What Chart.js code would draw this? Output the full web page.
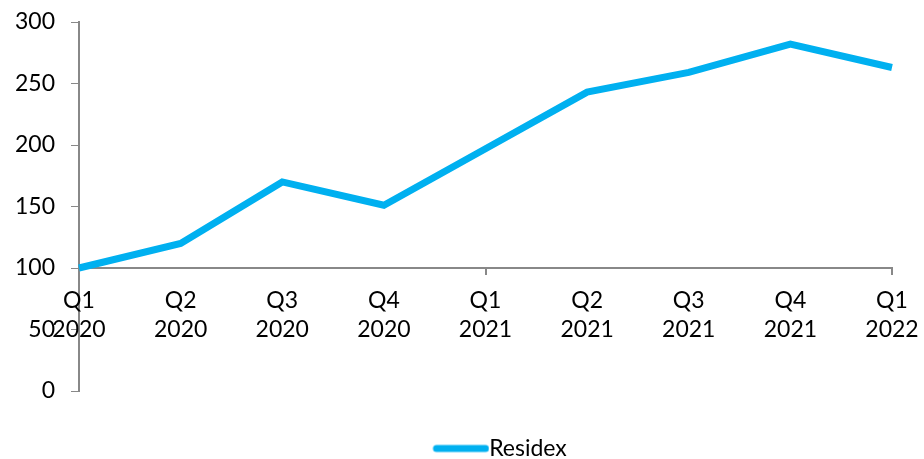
<!DOCTYPE html>
<html>
<head>
<meta charset="utf-8">
<script src="https://cdn.jsdelivr.net/npm/chart.js@4"></script>
<style>
html,body{margin:0;padding:0;background:#fff;}
#wrap{width:924px;height:459px;position:relative;}
</style>
</head>
<body>
<div id="wrap"><canvas id="c" width="924" height="459"></canvas></div>
<script>
const categories = [["Q1","2020"],["Q2","2020"],["Q3","2020"],["Q4","2020"],["Q1","2021"],["Q2","2021"],["Q3","2021"],["Q4","2021"],["Q1","2022"]];
const residex = [100, 120, 170, 151, 197, 243, 259, 282, 263];
const yTicks = [0, 50, 100, 150, 200, 250, 300];
const seriesName = "Residex";
const lineColor = "#00B0F0";
const axisColor = "#888888";

Chart.defaults.font.family = "Lato, 'Open Sans', sans-serif";
Chart.defaults.font.size = 23;
Chart.defaults.color = "#000000";

// legend swatch: a rounded line drawn in the right part of a small canvas
const swatch = document.createElement('canvas');
swatch.width = 97; swatch.height = 12;
(function () {
  const g = swatch.getContext('2d');
  g.strokeStyle = lineColor; g.lineWidth = 7; g.lineCap = 'round';
  g.beginPath(); g.moveTo(44, 6); g.lineTo(93, 6); g.stroke();
})();

function zeroPad(s) { s.paddingTop = 0; s.paddingBottom = 0; s.paddingLeft = 0; s.paddingRight = 0; }

new Chart(document.getElementById('c'), {
  type: 'line',
  data: {
    labels: categories,
    datasets: [{
      label: seriesName,
      data: residex,
      borderColor: lineColor,
      backgroundColor: lineColor,
      borderWidth: 7,
      pointRadius: 0,
      tension: 0,
      fill: false
    }]
  },
  options: {
    responsive: false,
    animation: false,
    layout: { padding: { top: 22, right: 32, bottom: -11, left: 0 } },
    plugins: {
      tooltip: { enabled: false },
      legend: {
        position: 'bottom',
        fullSize: false,
        labels: {
          usePointStyle: true,
          pointStyleWidth: 73.5,
          padding: 46,
          font: { size: 23 },
          color: '#000',
          generateLabels(chart) {
            const items = Chart.defaults.plugins.legend.labels.generateLabels(chart);
            items.forEach(i => { i.pointStyle = swatch; });
            return items;
          }
        }
      }
    },
    scales: {
      y: {
        min: 0, max: 300,
        afterBuildTicks(s) { s.ticks = yTicks.map(v => ({ value: v })); },
        afterFit(s) { s.width = 79; zeroPad(s); },
        grid: { drawOnChartArea: false, drawTicks: true, tickLength: 8, color: axisColor },
        border: { color: axisColor, width: 2 },
        ticks: { padding: 16, color: '#000', font: { size: 23 } }
      },
      x: {
        position: { y: 100 },
        offset: false,
        afterFit(s) { zeroPad(s); },
        grid: {
          drawOnChartArea: false, drawTicks: true, tickLength: 6,
          color: ctx => (ctx.index % 4 === 0 ? axisColor : 'rgba(0,0,0,0)'),
          lineWidth: 2
        },
        border: { color: axisColor, width: 2 },
        ticks: { autoSkip: false, maxRotation: 0, padding: 12, color: '#000', font: { size: 23, lineHeight: 1.25 } }
      }
    }
  }
});
</script>
</body>
</html>
